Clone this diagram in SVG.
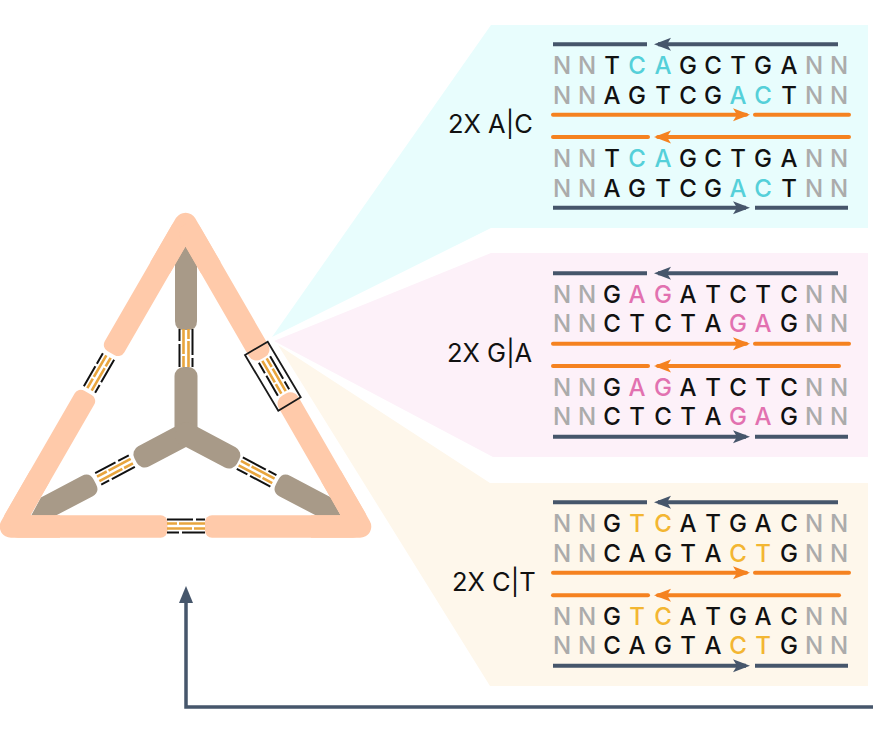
<svg xmlns="http://www.w3.org/2000/svg" xmlns:xlink="http://www.w3.org/1999/xlink" width="873" height="733" viewBox="0 0 873 733">
<style>
text{font-family:Inter,"Liberation Sans",Arial,sans-serif;fill:#111}
.s{font-size:24px;text-anchor:middle;font-weight:500}
.l{font-size:25.500px}
.n{fill:#ababab}
.cy{fill:#55d0d9}
.pk{fill:#e271b0}
.ye{fill:#f3b632}
.d{stroke:#46566b;stroke-width:4;fill:none}
.o{stroke:#f58220;stroke-width:4;fill:none;stroke-linecap:round}
.peach{fill:#ffcaaa}
.corner{fill:none;stroke:#ffcaaa;stroke-width:22.500;stroke-linejoin:round}
.brown{fill:#a89a88}
</style>
<defs>
<marker id="ad" markerUnits="userSpaceOnUse" markerWidth="18" markerHeight="14" viewBox="0 0 18 14" refX="14" refY="7" orient="auto"><path d="M18 7L1 .5 5 7 1 13.5Z" fill="#46566b"/></marker>
<marker id="ao" markerUnits="userSpaceOnUse" markerWidth="18" markerHeight="14" viewBox="0 0 18 14" refX="14" refY="7" orient="auto"><path d="M18 7L1 .5 5 7 1 13.5Z" fill="#f58220"/></marker>
<path id="tip" d="M112 -11.500H158L175 0 158 11.500H112Q103 11.500 103 2.500V-2.500Q103 -11.500 112 -11.500Z"/>
<g id="dna">
<path d="M-19 -6.500H7M10 -6.500H19M-19 6.500H-7M-4 6.500H19" stroke="#111" stroke-width="2" fill="none"/>
<path d="M-19 -2.500H-9M-7 -2.500H19M-19 2.500H6M8 2.500H19" stroke="#e8a53e" stroke-width="2.600" fill="none"/>
</g>
</defs>
<g id="fans">
<polygon points="272,337 491,25 868,25 868,228 491,228" fill="#e8fdfd"/>
<polygon points="274,341 491,253 868,253 868,457 493,457" fill="#fdf1f9"/>
<polygon points="278,345 490,483 868,483 868,686 490,686" fill="#fef7eb"/>
</g>
<g id="triangle">
<g class="brown">
<rect x="-10" y="-11.500" width="77" height="23" rx="9" transform="translate(186 434) rotate(-90)"/>
<rect x="-10" y="-11.500" width="67" height="23" rx="9" transform="translate(186 434) rotate(152.2)"/>
<rect x="-10" y="-11.500" width="69" height="23" rx="9" transform="translate(186 434) rotate(27.8)"/>
<path d="M175 262L186 245 197 262V321Q197 330 188 330H184Q175 330 175 321Z"/>
<use xlink:href="#tip" href="#tip" transform="translate(186 434) rotate(152.2)"/>
<use xlink:href="#tip" href="#tip" transform="translate(186 434) rotate(27.8)"/>
</g>
<g class="peach">
<path class="corner" d="M160 268L185.500 224 211 268"/>
<path class="corner" d="M40 476L11 526.500H60"/>
<path class="corner" d="M331 476L360 526.500H311"/>
<rect x="0" y="-11.250" width="149" height="22.500" rx="7" transform="translate(185.500 224) rotate(120)"/>
<rect x="195" y="-11.250" width="154" height="22.500" rx="7" transform="translate(185.500 224) rotate(120)"/>
<rect x="0" y="-11.250" width="155" height="22.500" rx="9" transform="translate(185.500 224) rotate(60)"/>
<rect x="197" y="-11.250" width="152" height="22.500" rx="9" transform="translate(185.500 224) rotate(60)"/>
<rect x="11" y="515.250" width="156.500" height="22.500" rx="7"/>
<rect x="205" y="515.250" width="155" height="22.500" rx="7"/>
</g>
</g>
<g id="connectors">
<use xlink:href="#dna" href="#dna" transform="translate(186 526)"/>
<use xlink:href="#dna" href="#dna" transform="translate(99 373) rotate(120)"/>
<use xlink:href="#dna" href="#dna" transform="translate(274 376) rotate(60)"/>
<use xlink:href="#dna" href="#dna" transform="translate(186 348) rotate(90)"/>
<use xlink:href="#dna" href="#dna" transform="translate(115 470) rotate(152.2)"/>
<use xlink:href="#dna" href="#dna" transform="translate(256.600 472) rotate(27.8)"/>
<path d="M873 707H186V600" fill="none" stroke="#46566b" stroke-width="3.500"/>
<path d="M186 586L193 603H179Z" fill="#46566b"/>
</g>
<polygon id="zoom-box" points="267.700,341.700 245,355 278.300,410.700 300.700,397.300" fill="none" stroke="#1a1a1a" stroke-width="1.800"/>
<g id="panel-ac">
<text class="l" x="448" y="133">2X A|C</text>
<path class="d" d="M553 44.300H647"/><path class="d" d="M838 44.300H658" marker-end="url(#ad)"/>
<path class="o" d="M553 114.700H746" marker-end="url(#ao)"/><path class="o" d="M755 114.700H849"/>
<path class="o" d="M553 137H648"/><path class="o" d="M849 137H658" marker-end="url(#ao)"/>
<path class="d" d="M553 207.700H746" marker-end="url(#ad)"/><path class="d" d="M755 207.700H848"/>
<text class="s" y="74" x="562 587 612 637 663 688 713 738 763 789 814 839"><tspan class="n">NN</tspan>T<tspan class="cy">CA</tspan>GCTGA<tspan class="n">NN</tspan></text>
<text class="s" y="104" x="562 587 612 637 663 688 713 738 763 789 814 839"><tspan class="n">NN</tspan>AGTCG<tspan class="cy">AC</tspan>T<tspan class="n">NN</tspan></text>
<text class="s" y="166.700" x="562 587 612 637 663 688 713 738 763 789 814 839"><tspan class="n">NN</tspan>T<tspan class="cy">CA</tspan>GCTGA<tspan class="n">NN</tspan></text>
<text class="s" y="196.700" x="562 587 612 637 663 688 713 738 763 789 814 839"><tspan class="n">NN</tspan>AGTCG<tspan class="cy">AC</tspan>T<tspan class="n">NN</tspan></text>
</g>
<g id="panel-ga">
<text class="l" x="447" y="362">2X G|A</text>
<path class="d" d="M553 273.300H647"/><path class="d" d="M838 273.300H658" marker-end="url(#ad)"/>
<path class="o" d="M553 343.700H746" marker-end="url(#ao)"/><path class="o" d="M755 343.700H849"/>
<path class="o" d="M553 366H648"/><path class="o" d="M839 366H658" marker-end="url(#ao)"/>
<path class="d" d="M553 436.700H746" marker-end="url(#ad)"/><path class="d" d="M755 436.700H848"/>
<text class="s" y="303.300" x="562 587 612 637 663 688 713 738 763 789 814 839"><tspan class="n">NN</tspan>G<tspan class="pk">AG</tspan>ATCTC<tspan class="n">NN</tspan></text>
<text class="s" y="332.300" x="562 587 612 637 663 688 713 738 763 789 814 839"><tspan class="n">NN</tspan>CTCTA<tspan class="pk">GA</tspan>G<tspan class="n">NN</tspan></text>
<text class="s" y="396" x="562 587 612 637 663 688 713 738 763 789 814 839"><tspan class="n">NN</tspan>G<tspan class="pk">AG</tspan>ATCTC<tspan class="n">NN</tspan></text>
<text class="s" y="425.300" x="562 587 612 637 663 688 713 738 763 789 814 839"><tspan class="n">NN</tspan>CTCTA<tspan class="pk">GA</tspan>G<tspan class="n">NN</tspan></text>
</g>
<g id="panel-ct">
<text class="l" x="452" y="590.700">2X C|T</text>
<path class="d" d="M553 502.300H647"/><path class="d" d="M838 502.300H658" marker-end="url(#ad)"/>
<path class="o" d="M553 572.700H746" marker-end="url(#ao)"/><path class="o" d="M755 572.700H849"/>
<path class="o" d="M553 595.300H648"/><path class="o" d="M839 595.300H658" marker-end="url(#ao)"/>
<path class="d" d="M553 665.700H746" marker-end="url(#ad)"/><path class="d" d="M755 665.700H848"/>
<text class="s" y="532.300" x="562 587 612 637 663 688 713 738 763 789 814 839"><tspan class="n">NN</tspan>G<tspan class="ye">TC</tspan>ATGAC<tspan class="n">NN</tspan></text>
<text class="s" y="561.700" x="562 587 612 637 663 688 713 738 763 789 814 839"><tspan class="n">NN</tspan>CAGTA<tspan class="ye">CT</tspan>G<tspan class="n">NN</tspan></text>
<text class="s" y="625" x="562 587 612 637 663 688 713 738 763 789 814 839"><tspan class="n">NN</tspan>G<tspan class="ye">TC</tspan>ATGAC<tspan class="n">NN</tspan></text>
<text class="s" y="654.300" x="562 587 612 637 663 688 713 738 763 789 814 839"><tspan class="n">NN</tspan>CAGTA<tspan class="ye">CT</tspan>G<tspan class="n">NN</tspan></text>
</g>
</svg>
